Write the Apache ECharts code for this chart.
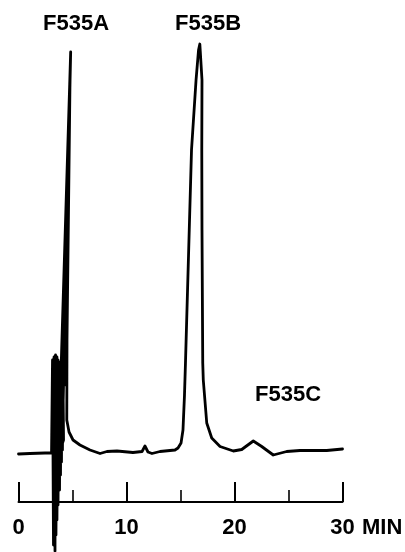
<!DOCTYPE html>
<html>
<head>
<meta charset="utf-8">
<script src="https://cdn.jsdelivr.net/npm/echarts@6/dist/echarts.min.js"></script>
<style>
html,body{margin:0;padding:0;background:#fff;}
#chart{width:405px;height:552px;}
</style>
</head>
<body>
<div id="chart"></div>
<script>
// Retention time (min) and detector signal (arbitrary units)
const time = [
  0.00, 1.06, 2.45, 3.06,
  3.15, 3.24, 3.29, 3.38, 3.43, 3.47, 3.56, 3.56, 3.66, 3.66, 3.75, 3.80, 3.84, 3.89,
  3.94, 3.98, 4.03, 4.07, 4.12, 4.17, 3.70,
  4.83, 4.06, 4.80, 4.26, 4.77, 4.49, 4.47, 4.68, 5.05, 5.69, 6.62,
  7.55, 8.19, 9.12, 10.60, 11.44, 11.71, 11.99, 12.36, 13.10, 14.49, 14.77, 15.05, 15.23,
  15.37, 15.46, 15.81, 16.02, 16.44, 16.67, 16.79, 16.90, 16.99, 16.97, 16.99, 17.06,
  17.11, 17.43, 17.89, 18.66, 19.89, 20.67, 21.74, 22.52, 23.59, 24.83, 26.06, 28.54, 30.00
];
const signal = [
  9.6, 9.7, 9.8, 9.8,
  28.4, -8.6, 29.0, -9.8, 29.4, -6.6, 29.0, -3.6, 28.4, -0.6, 28.0, 2.4, 27.4, 5.4,
  26.8, 8.0, 26.0, 10.4, 24.8, 12.4, 9.4,
  90.0, 12.4, 87.4, 23.4, 84.4, 32.4, 16.4, 14.0, 12.4, 11.4, 10.4,
  9.7, 10.1, 10.2, 9.9, 10.1, 11.2, 10.0, 9.7, 10.1, 10.4, 10.8, 11.8, 14.4,
  21.4, 27.8, 54.4, 70.4, 84.4, 90.4, 91.6, 91.2, 84.4, 70.4, 54.4, 27.8,
  24.4, 15.8, 12.8, 11.1, 10.2, 10.5, 12.2, 11.1, 9.4, 10.1, 10.3, 10.3, 10.6
];
const tickLabels = ['0', '10', '20', '30'];
const peakNames = ['F535A', 'F535B', 'F535C'];
const unitName = 'MIN';

const fontFamily = '"Liberation Sans", Arial, Helvetica, sans-serif';
const chart = echarts.init(document.getElementById('chart'), null, {renderer: 'canvas'});
const titleStyle = {fontSize: 22, fontWeight: 'bold', color: '#000', fontFamily: fontFamily};
const titlePos = [[43, 13], [175, 13], [255, 384]];

chart.setOption({
  animation: false,
  backgroundColor: '#fff',
  title: peakNames.map((n, i) => ({
    text: n, left: titlePos[i][0], top: titlePos[i][1], padding: 0,
    textStyle: titleStyle
  })),
  grid: {left: 18.5, right: 62.5, top: 2, bottom: 50, containLabel: false, outerBoundsMode: 'none'},
  xAxis: {
    type: 'value', min: 0, max: 30, interval: 10,
    name: unitName, nameLocation: 'end', nameGap: 19.5,
    nameTextStyle: {fontSize: 22, fontWeight: 'bold', color: '#000', fontFamily: fontFamily,
      verticalAlign: 'top', padding: [15, 0, 0, 0]},
    axisLine: {onZero: false, lineStyle: {color: '#000', width: 2}},
    axisTick: {show: true, inside: true, length: 20, lineStyle: {color: '#000', width: 2}},
    minorTick: {show: true, splitNumber: 2, length: 12, lineStyle: {color: '#000', width: 1.6}},
    splitLine: {show: false},
    axisLabel: {
      show: true, margin: 15, fontSize: 22, fontWeight: 'bold', color: '#000', fontFamily: fontFamily,
      formatter: v => tickLabels[Math.round(v / 10)] || ''
    }
  },
  yAxis: {type: 'value', min: 0, max: 100, show: false, splitLine: {show: false}},
  series: [{
    type: 'line',
    data: time.map((t, i) => [t, signal[i]]),
    showSymbol: false,
    symbol: 'none',
    smooth: false,
    clip: false,
    lineStyle: {color: '#000', width: 2.8, join: 'round', cap: 'round'}
  }]
});
</script>
</body>
</html>
